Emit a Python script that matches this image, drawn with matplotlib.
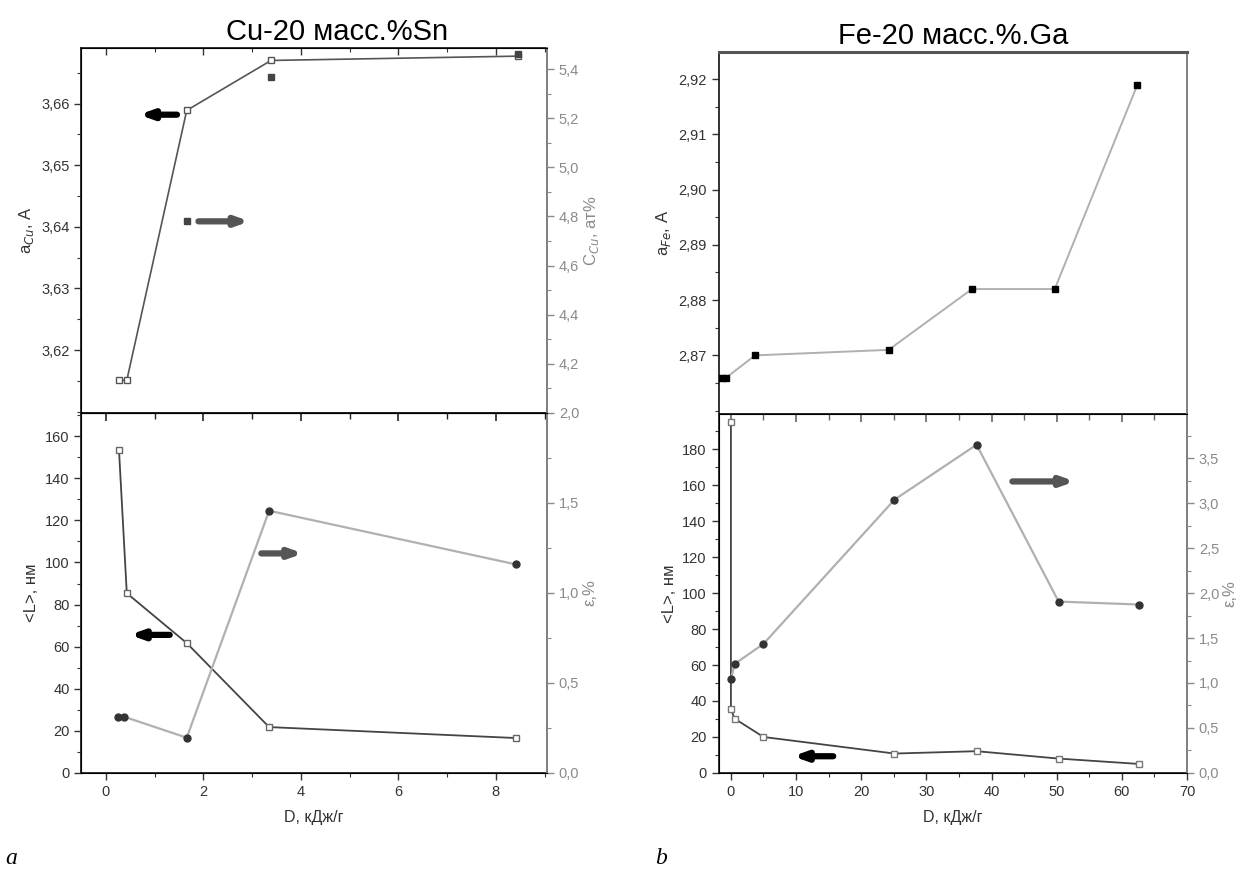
import matplotlib.pyplot as plt
from matplotlib.ticker import MultipleLocator, FuncFormatter

plt.rcParams['font.family'] = ['Liberation Sans', 'DejaVu Sans']

# Cu-20 mass.% Sn, lattice parameter (left axis) and Sn content (right axis)
cu_D_a = [0.27, 0.43, 1.66, 3.39, 8.45]
cu_a = [3.6151, 3.6151, 3.6589, 3.6670, 3.6677]
cu_D_c = [1.66, 3.39, 8.45]
cu_c = [4.78, 5.366, 5.46]

# Cu-20 mass.% Sn, crystallite size and microstrain
cu_D_L = [0.27, 0.43, 1.66, 3.35, 8.41]
cu_L = [153.4, 85.4, 61.7, 21.8, 16.6]
cu_D_eps = [0.25, 0.37, 1.66, 3.35, 8.41]
cu_eps = [0.313, 0.313, 0.196, 1.457, 1.159]

# Fe-20 mass.% Ga, lattice parameter
fe_D_a = [-1.3, -0.8, 3.7, 24.2, 37.0, 49.7, 62.4]
fe_a = [2.8659, 2.8659, 2.8700, 2.8710, 2.8820, 2.8820, 2.9190]

# Fe-20 mass.% Ga, crystallite size and microstrain
fe_D_L = [0.0, 0.0, 0.6, 5.0, 25.1, 37.7, 50.3, 62.7]
fe_L = [194.8, 35.3, 30.1, 20.0, 10.8, 12.1, 8.0, 5.0]
fe_D_eps = [0.0, 0.6, 5.0, 25.1, 37.7, 50.3, 62.7]
fe_eps = [1.047, 1.213, 1.435, 3.037, 3.648, 1.905, 1.872]

# labelled ticks
cu_a_ticks = [3.62, 3.63, 3.64, 3.65, 3.66]
cu_c_ticks = [4.2, 4.4, 4.6, 4.8, 5.0, 5.2, 5.4]
fe_a_ticks = [2.87, 2.88, 2.89, 2.90, 2.91, 2.92]

DARK = '#222222'
GRAY = '#8a8a8a'
LIGHT = '#b0b0b0'


def comma(dec):
    return FuncFormatter(lambda v, p: f'{v:.{dec}f}'.replace('.', ','))


def style(ax):
    ax.tick_params(axis='both', which='both', direction='out', labelsize=10.5,
                   colors='#333333')
    ax.tick_params(which='major', length=5, width=1)
    ax.tick_params(which='minor', length=3, width=0.8)
    for s in ax.spines.values():
        s.set_linewidth(1.3)
        s.set_color(DARK)


def style_right(ax2):
    ax2.tick_params(axis='y', which='both', direction='out', labelsize=10.5,
                    colors=GRAY)
    ax2.tick_params(which='major', length=5, width=1)
    ax2.tick_params(which='minor', length=3, width=0.8)
    ax2.spines['right'].set_color(GRAY)
    ax2.spines['right'].set_linewidth(1.3)


def top_ticks_in(ax, major, minor, color):
    sec = ax.secondary_xaxis('top')
    sec.xaxis.set_major_locator(MultipleLocator(major))
    sec.xaxis.set_minor_locator(MultipleLocator(minor))
    sec.tick_params(axis='x', which='both', direction='in', labeltop=False,
                    colors=color)
    sec.tick_params(which='major', length=6, width=1.2)
    sec.tick_params(which='minor', length=4, width=1)
    sec.spines['top'].set_color(color)
    sec.spines['top'].set_linewidth(1.3)
    return sec


def arrow(ax, x0, x1, y, color):
    ax.annotate('', xy=(x1, y), xytext=(x0, y),
                arrowprops=dict(arrowstyle='-|>,head_length=0.7,head_width=0.25',
                                color=color, lw=4.5, shrinkA=0, shrinkB=0))


fig = plt.figure(figsize=(12.38, 8.75), dpi=100)

# ---- left column: Cu-Sn ----
ax1 = fig.add_axes([0.0658, 0.528, 0.376, 0.417])
ax3 = fig.add_axes([0.0658, 0.1166, 0.376, 0.4114])

ax1.plot(cu_D_a, cu_a, color='#555555', lw=1.2, marker='s', ms=5,
         mfc='white', mec='#555555', zorder=3)
ax1.set_xlim(-0.5, 9.05)
ax1.set_ylim(3.6098, 3.669)
ax1.set_yticks(cu_a_ticks)
ax1.yaxis.set_minor_locator(MultipleLocator(0.005))
ax1.yaxis.set_major_formatter(comma(2))
ax1.xaxis.set_major_locator(MultipleLocator(2))
ax1.xaxis.set_minor_locator(MultipleLocator(1))
style(ax1)
ax1.tick_params(axis='x', which='both', direction='in', top=True, bottom=False,
                labelbottom=False)
ax1.set_ylabel('a$_{Cu}$, A', fontsize=12, color='#333333', labelpad=4)
ax1.set_title('Cu-20 масс.%Sn', fontsize=21, x=0.55, pad=6)
ax1b = ax1.twinx()
ax1b.plot(cu_D_c, cu_c, ls='none', marker='s', ms=5, color='#444444', zorder=3)
ax1b.set_ylim(4.0, 5.485)
ax1b.set_yticks(cu_c_ticks)
ax1b.yaxis.set_minor_locator(MultipleLocator(0.1))
ax1b.yaxis.set_major_formatter(comma(1))
style_right(ax1b)
ax1b.set_ylabel('C$_{Cu}$, ат%', fontsize=12, color=GRAY, labelpad=2)
arrow(ax1, 1.46, 0.68, 3.6582, 'black')
arrow(ax1b, 1.9, 2.95, 4.78, '#555555')

ax3.plot(cu_D_L, cu_L, color='#444444', lw=1.3, marker='s', ms=5,
         mfc='white', mec='#666666', zorder=3)
ax3.set_xlim(-0.5, 9.05)
ax3.set_ylim(0, 171)
ax3.yaxis.set_major_locator(MultipleLocator(20))
ax3.yaxis.set_minor_locator(MultipleLocator(10))
ax3.xaxis.set_major_locator(MultipleLocator(2))
ax3.xaxis.set_minor_locator(MultipleLocator(1))
style(ax3)
top_ticks_in(ax3, 2, 1, DARK)
ax3.set_ylabel('<L>, нм', fontsize=12, color='#333333', labelpad=4)
ax3.set_xlabel('D, кДж/г', fontsize=11.5, color='#333333', labelpad=8)
ax3b = ax3.twinx()
ax3b.plot(cu_D_eps, cu_eps, color=LIGHT, lw=1.6, marker='o', ms=5,
          mfc='#333333', mec='#333333', zorder=3)
ax3b.set_ylim(0, 2.0)
ax3b.yaxis.set_major_locator(MultipleLocator(0.5))
ax3b.yaxis.set_minor_locator(MultipleLocator(0.25))
ax3b.yaxis.set_major_formatter(comma(1))
style_right(ax3b)
ax3b.set_ylabel('ε,%', fontsize=12, color=GRAY, labelpad=2)
arrow(ax3, 1.31, 0.49, 65.6, 'black')
arrow(ax3, 3.19, 4.05, 104.3, '#555555')

# ---- right column: Fe-Ga ----
ax2 = fig.add_axes([0.5804, 0.5269, 0.3784, 0.4137])
ax4 = fig.add_axes([0.5804, 0.1166, 0.3784, 0.4103])

ax2.plot(fe_D_a, fe_a, color=LIGHT, lw=1.4, marker='s', ms=5,
         mfc='black', mec='black', zorder=3)
ax2.set_xlim(-1.9, 70)
ax2.set_ylim(2.8594, 2.9249)
ax2.set_yticks(fe_a_ticks)
ax2.yaxis.set_minor_locator(MultipleLocator(0.005))
ax2.yaxis.set_major_formatter(comma(2))
style(ax2)
ax2.tick_params(axis='x', which='both', bottom=False, top=False,
                labelbottom=False)
ax2.spines['top'].set_linewidth(2.2)
ax2.spines['top'].set_color('#555555')
ax2.spines['bottom'].set_color('#dddddd')
ax2.spines['right'].set_color('#777777')
ax2.set_ylabel('a$_{Fe}$, A', fontsize=12, color='#333333', labelpad=4)
ax2.set_title('Fe-20 масс.%.Ga', fontsize=21, pad=6)

ax4.plot(fe_D_L, fe_L, color='#444444', lw=1.3, marker='s', ms=5,
         mfc='white', mec='#777777', zorder=3)
ax4.set_xlim(-1.9, 70)
ax4.set_ylim(0, 199.5)
ax4.yaxis.set_major_locator(MultipleLocator(20))
ax4.yaxis.set_minor_locator(MultipleLocator(10))
ax4.xaxis.set_major_locator(MultipleLocator(10))
ax4.xaxis.set_minor_locator(MultipleLocator(5))
style(ax4)
top_ticks_in(ax4, 10, 5, '#666666')
ax4.set_ylabel('<L>, нм', fontsize=12, color='#333333', labelpad=4)
ax4.set_xlabel('D, кДж/г', fontsize=11.5, color='#333333', labelpad=8)
ax4b = ax4.twinx()
ax4b.plot(fe_D_eps, fe_eps, color=LIGHT, lw=1.6, marker='o', ms=5,
          mfc='#333333', mec='#333333', zorder=3)
ax4b.set_ylim(0, 3.99)
ax4b.yaxis.set_major_locator(MultipleLocator(0.5))
ax4b.yaxis.set_minor_locator(MultipleLocator(0.25))
ax4b.yaxis.set_major_formatter(comma(1))
style_right(ax4b)
ax4b.set_ylabel('ε,%', fontsize=12, color=GRAY, labelpad=2)
arrow(ax4, 43.2, 52.8, 162, '#555555')
arrow(ax4, 15.7, 9.5, 9.3, 'black')

# panel letters
fig.text(0.004, 0.012, 'a', family=['Liberation Serif', 'DejaVu Serif'],
         style='italic', fontsize=17)
fig.text(0.529, 0.012, 'b', family=['Liberation Serif', 'DejaVu Serif'],
         style='italic', fontsize=17)

fig.savefig('out.png', dpi=100)
